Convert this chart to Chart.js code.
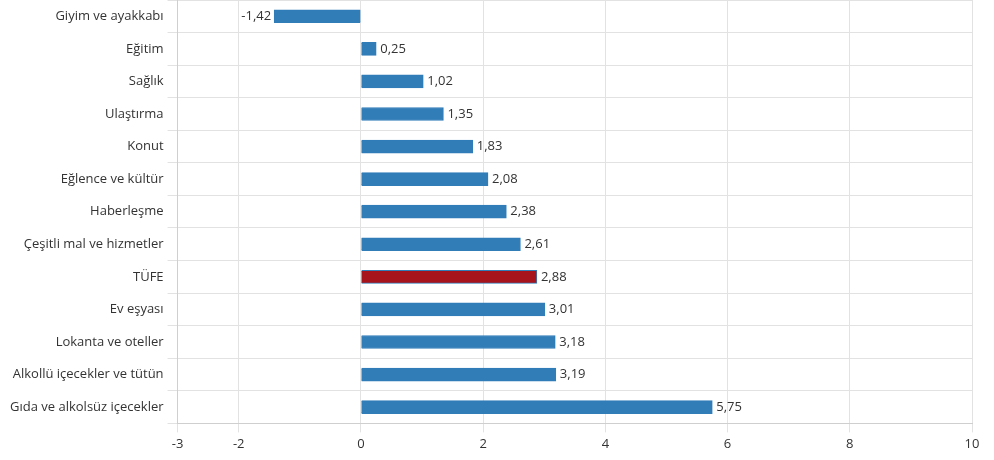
<!DOCTYPE html>
<html>
<head>
<meta charset="utf-8">
<script src="https://cdn.jsdelivr.net/npm/chart.js@4/dist/chart.umd.min.js"></script>
<style>
  html, body { margin: 0; padding: 0; background: #fff; }
  #chart { display: block; }
</style>
</head>
<body>
<canvas id="chart" width="994" height="460"></canvas>
<script>
const categories = [
  'Giyim ve ayakkabı',
  'Eğitim',
  'Sağlık',
  'Ulaştırma',
  'Konut',
  'Eğlence ve kültür',
  'Haberleşme',
  'Çeşitli mal ve hizmetler',
  'TÜFE',
  'Ev eşyası',
  'Lokanta ve oteller',
  'Alkollü içecekler ve tütün',
  'Gıda ve alkolsüz içecekler'
];
const values = [-1.42, 0.25, 1.02, 1.35, 1.83, 2.08, 2.38, 2.61, 2.88, 3.01, 3.18, 3.19, 5.75];
const xTicks = [-3, -2, 0, 2, 4, 6, 8, 10];

const blue = '#307db8';
const red = '#a8141c';
const fontFamily = '"Open Sans", "Noto Sans", sans-serif';

const fmt = (v) => v.toFixed(2).replace('.', ',');

// etiketler çubuk ucuna
const valueLabels = {
  id: 'valueLabels',
  afterDatasetsDraw(chart) {
    const ctx = chart.ctx;
    const meta = chart.getDatasetMeta(0);
    ctx.save();
    ctx.font = '13px ' + fontFamily;
    ctx.fillStyle = '#333';
    ctx.textBaseline = 'middle';
    meta.data.forEach((bar, i) => {
      const v = values[i];
      if (v < 0) {
        ctx.textAlign = 'right';
        ctx.fillText(fmt(v), bar.x - 3, bar.y);
      } else {
        ctx.textAlign = 'left';
        ctx.fillText(fmt(v), bar.x + 4, bar.y);
      }
    });
    ctx.restore();
  }
};

new Chart('chart', {
  type: 'bar',
  data: {
    labels: categories,
    datasets: [{
      data: values,
      backgroundColor: categories.map((c) => (c === 'TÜFE' ? red : blue)),
      borderColor: blue,
      borderWidth: 1,
      barThickness: 13
    }]
  },
  options: {
    indexAxis: 'y',
    responsive: false,
    animation: false,
    devicePixelRatio: 1,
    layout: { padding: { top: -2, right: 22, bottom: 4, left: 6 } },
    plugins: {
      legend: { display: false },
      tooltip: { enabled: false }
    },
    scales: {
      x: {
        min: -3,
        max: 10,
        afterBuildTicks: (axis) => {
          axis.ticks = xTicks.map((v) => ({ value: v }));
        },
        grid: { color: '#e2e2e2', tickLength: 9 },
        border: { color: '#cfcfcf' },
        ticks: {
          color: '#333',
          font: { family: fontFamily, size: 13 },
          padding: 4,
          maxRotation: 0
        }
      },
      y: {
        afterFit: (axis) => {
          axis.paddingTop = 0;
        },
        grid: { color: '#e2e2e2', tickLength: 10, offset: true },
        border: { color: '#cfcfcf' },
        ticks: {
          color: '#333',
          font: { family: fontFamily, size: 13 },
          padding: 4,
          autoSkip: false
        }
      }
    }
  },
  plugins: [valueLabels]
});
</script>
</body>
</html>
